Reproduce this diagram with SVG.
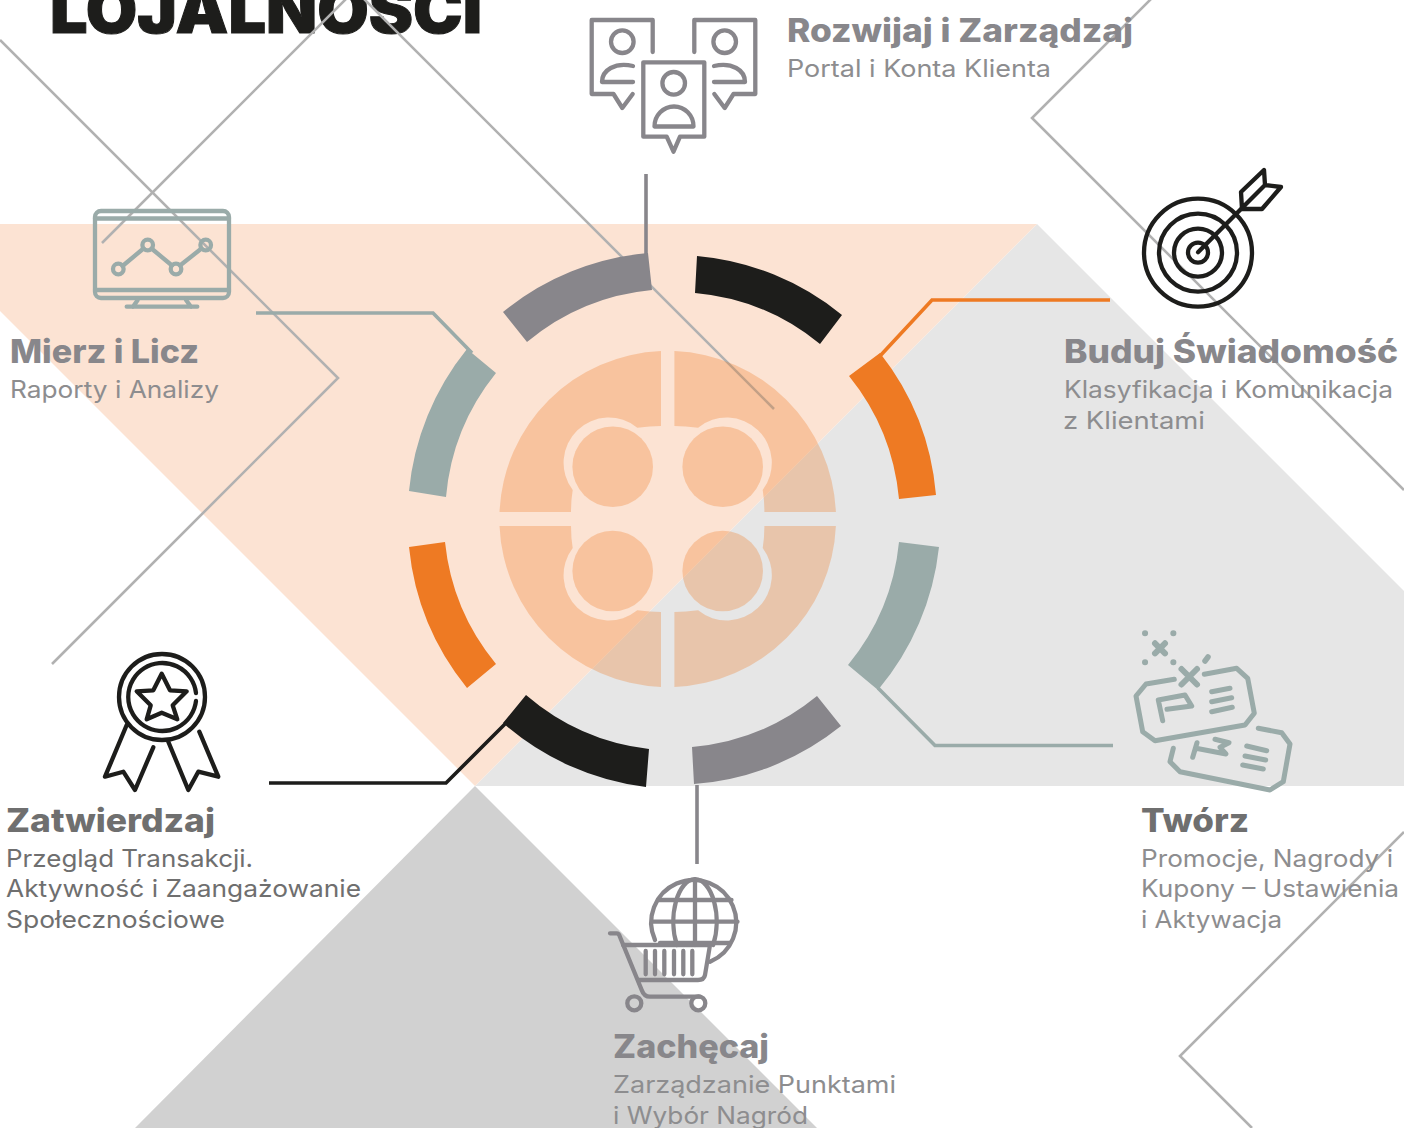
<svg xmlns="http://www.w3.org/2000/svg" xmlns:xlink="http://www.w3.org/1999/xlink" width="1404" height="1128" viewBox="0 0 1404 1128">
<style>
text{font-family:Inter,"Liberation Sans",sans-serif}
.h{font-size:32px;font-weight:800;fill:#88878b}
.s{font-size:24px;font-weight:400;fill:#8d8d8f}
.hd{fill:#6f6f6f}
.sd{fill:#6f6f6f}
.bg{fill:none;stroke:#b1b1b1;stroke-width:2.6}
.ic{fill:none;stroke-width:4.3;stroke-linecap:round;stroke-linejoin:round}
.tk{stroke-width:5}
.gr{stroke:#88868b}.te{stroke:#9aaba9}.bk{stroke:#1d1d1b}
.con{fill:none;stroke-width:3.6}
.q{fill:#ee7a23;fill-opacity:.3}
</style>
<defs>
<path id="quad" d="M661,351A168.5,168.5 0 0 0 499.5,512H571Q571,500 572.7,490A45.2,45.2 0 0 1 637.3,427.7Q650,426 661,426Z"/>
</defs>
<rect width="1404" height="1128" fill="#fff"/>
<g id="background">
<polygon points="1037,224 1404,591 1404,786 475,786" fill="#e6e6e6"/>
<polygon points="0,224 1037,224 475,786 0,311" fill="#fce3d3"/>
<polygon points="475,786 817,1128 135,1128" fill="#d1d1d1"/>
</g>
<text id="title" x="50" y="33" font-size="64" font-weight="900" fill="#1d1d1b" stroke="#1d1d1b" stroke-width="1" textLength="432" lengthAdjust="spacingAndGlyphs">LOJALNOŚCI</text>
<g id="bg-lines">
<path class="bg" d="M0,40L338,378L52,664"/>
<path class="bg" d="M102,243L355,-10L774,409"/>
<path class="bg" d="M1152,-2L1032,118L1404,490"/>
<path class="bg" d="M1404,832L1180,1056L1252,1128"/>
</g>
<g id="center">
<use href="#quad" class="q"/>
<use href="#quad" class="q" transform="matrix(-1 0 0 1 1335.4 0)"/>
<use href="#quad" class="q" transform="matrix(1 0 0 -1 0 1038)"/>
<use href="#quad" class="q" transform="matrix(-1 0 0 -1 1335.4 1038)"/>
<circle class="q" cx="612.7" cy="466.7" r="40.3"/>
<circle class="q" cx="722.7" cy="466.7" r="40.3"/>
<circle class="q" cx="612.7" cy="571" r="40.3"/>
<circle class="q" cx="722.7" cy="571" r="40.3"/>
</g>
<g id="ring">
<path fill="#88868b" d="M503,312A266,266 0 0 1 648,253L652,290A229,229 0 0 0 527,342Z"/>
<path fill="#1d1d1b" d="M697,256A266,266 0 0 1 842,315L820,344A229,229 0 0 0 695,293Z"/>
<path fill="#ee7a23" d="M880,353A266,266 0 0 1 936,495L899,499A229,229 0 0 0 849,376Z"/>
<path fill="#9aaba9" d="M939,547A266,266 0 0 1 878,690L848,665A229,229 0 0 0 899,542Z"/>
<path fill="#88868b" d="M841,726A266,266 0 0 1 694,784L692,747A229,229 0 0 0 817,696Z"/>
<path fill="#1d1d1b" d="M646,787A266,266 0 0 1 503,723L526,695A229,229 0 0 0 649,749Z"/>
<path fill="#ee7a23" d="M467,688A266,266 0 0 1 409,547L445,542A229,229 0 0 0 496,664Z"/>
<path fill="#9aaba9" d="M409,491A266,266 0 0 1 467,349L496,373A229,229 0 0 0 446,497Z"/>
</g>
<g id="connectors">
<path class="con" stroke="#9aaba9" d="M256,313H433L472,353"/>
<path class="con" stroke="#88868b" d="M646,174V258"/>
<path class="con" stroke="#ee7a23" d="M1110,300H932L880,356"/>
<path class="con" stroke="#9aaba9" d="M1113,745.500H935L878,688"/>
<path class="con" stroke="#1d1d1b" d="M269,783H446L507,722"/>
<path class="con" stroke="#88868b" d="M697,785V864"/>
</g>
<g id="node-rozwijaj">
<g class="ic gr">
<path d="M652.7,52V20H591.700V94H613.500L622.300,108L632.700,94"/>
<circle cx="622.3" cy="41.7" r="11.3"/>
<path d="M633,66C615,62 602,70 602,82H633"/>
<path d="M694.3,52V20H755.300V94H733.500L724.700,108L714.300,94"/>
<circle cx="724.7" cy="41.7" r="11.3"/>
<path d="M714,66C732,62 745,70 745,82H714"/>
<path d="M643.3,62.3H704.300V136.700H680L673.500,151.700L666.700,136.700H643.300Z"/>
<circle cx="673.7" cy="83.3" r="11.3"/>
<path d="M654.5,126.5A19.5,20 0 0 1 693.5,126.5Z"/>
</g>
<text class="h" x="787" y="42" textLength="346" lengthAdjust="spacingAndGlyphs">Rozwijaj i Zarządzaj</text>
<text class="s" x="787" y="77" textLength="264" lengthAdjust="spacingAndGlyphs">Portal i Konta Klienta</text>
</g>
<g id="node-buduj">
<g class="ic bk">
<circle cx="1198" cy="252.6" r="54"/>
<circle cx="1198" cy="252.6" r="39"/>
<circle cx="1198" cy="252.6" r="24"/>
<circle cx="1198" cy="252.6" r="10"/>
<path d="M1198,252.3L1244,206"/>
<path d="M1241,192L1264,170L1265,185L1281,187L1262,209L1242,209ZM1244,206L1265,185"/>
</g>
<text class="h" x="1064" y="363" textLength="334" lengthAdjust="spacingAndGlyphs">Buduj Świadomość</text>
<text class="s" x="1064" y="398" textLength="329" lengthAdjust="spacingAndGlyphs">Klasyfikacja i Komunikacja</text>
<text class="s" x="1063" y="429" textLength="142" lengthAdjust="spacingAndGlyphs">z Klientami</text>
</g>
<g id="node-tworz">
<g class="ic tk te">
<path d="M1155,643.3L1165,653.300M1165,643.300L1155,653.300" style="stroke-width:6"/>
<path d="M1145,633.3h.1M1173.3,633.300h.1M1145,662.300h.1M1173.300,662.300h.1" style="stroke-width:6"/>
<path d="M1205,661L1208,657" style="stroke-width:5.500"/>
<path d="M1181.5,669L1197,684.500M1197,669L1181.500,684.500" style="stroke-width:6"/>
<path d="M1174.3,679.3L1146,684L1136,696L1142.700,731.700L1155,740.700L1245,725L1254.300,713.300L1247.700,678.300L1236.700,668.300L1204.300,674.300"/>
<path d="M1162.7,720.7L1158.300,700L1185,695L1191.700,706L1167,709.300"/>
<path d="M1211.7,691.7L1230,688.300M1211.700,701.700L1231.700,697.700M1211.700,711.700L1232.300,707.300"/>
<path d="M1258.3,728.3L1281.700,732.700L1290,744L1283.300,781.700L1270,790L1180,771.700L1170,761.700L1173.300,748.300"/>
<path d="M1192.7,757.3L1197,742.700M1215,739.300L1229,742.700L1220,747.300L1226,754L1196,748.300"/>
<path d="M1246.7,746L1266.700,750.700M1245,756L1265.700,760M1242.700,765L1263.300,769"/>
</g>
<text class="h hd" x="1141" y="832" textLength="108" lengthAdjust="spacingAndGlyphs">Twórz</text>
<text class="s" x="1141" y="867" textLength="252" lengthAdjust="spacingAndGlyphs">Promocje, Nagrody i</text>
<text class="s" x="1141" y="897" textLength="258" lengthAdjust="spacingAndGlyphs">Kupony – Ustawienia</text>
<text class="s" x="1141" y="928" textLength="141" lengthAdjust="spacingAndGlyphs">i Aktywacja</text>
</g>
<g id="node-zachecaj">
<g class="ic gr">
<path d="M655,940A42.5,42.5 0 1 1 710,961.7"/>
<path d="M695,879.2V945M676.9,945A21.7,42.5 0 0 1 695,879.2A21.7,42.5 0 0 1 713.1,945"/>
<path d="M658.5,900H731.5M652.5,921.7H737.5M660,943H730"/>
<path d="M610,933.3H616.7Q619,933.3 620,937L641.7,990Q644,996.7 650,996.7H700"/>
<path d="M623,945H710L705,975Q704,980 698,980H638"/>
<path d="M645.7,951V974.3M655,951V974.3M664.3,951V974.3M674,951V974.3M683.3,951V974.3M692.3,951V974.3"/>
<circle cx="634.3" cy="1003.3" r="7"/>
<circle cx="698.3" cy="1003.3" r="7"/>
</g>
<text class="h" x="613" y="1058" textLength="156" lengthAdjust="spacingAndGlyphs">Zachęcaj</text>
<text class="s" x="613" y="1093" textLength="283" lengthAdjust="spacingAndGlyphs">Zarządzanie Punktami</text>
<text class="s" x="613" y="1124" textLength="195" lengthAdjust="spacingAndGlyphs">i Wybór Nagród</text>
</g>
<g id="node-zatwierdzaj">
<g class="ic bk">
<circle cx="162" cy="697" r="43"/>
<path d="M196,701A34,34 0 1 1 196,693"/>
<path d="M161.7,673.7L170,690.3L186.7,691.3L172.7,705.3L177.3,719.3L161.7,712.700L146.700,719.300L150.700,705.300L136.700,691.300L153.300,690.300Z"/>
<path d="M126.7,725L105,776.7L123.300,771.700L135,790L153.300,747.300"/>
<path d="M168.3,741.7L188.300,790L198.300,771.700L218.300,776.700L199.300,731.700"/>
</g>
<text class="h hd" x="6" y="832" textLength="209" lengthAdjust="spacingAndGlyphs">Zatwierdzaj</text>
<text class="s sd" x="6" y="867" textLength="247" lengthAdjust="spacingAndGlyphs">Przegląd Transakcji.</text>
<text class="s sd" x="6" y="897" textLength="355" lengthAdjust="spacingAndGlyphs">Aktywność i Zaangażowanie</text>
<text class="s sd" x="6" y="928" textLength="219" lengthAdjust="spacingAndGlyphs">Społecznościowe</text>
</g>
<g id="node-mierz">
<g class="ic te">
<rect x="95" y="211" width="134" height="87" rx="6"/>
<path d="M95,218.5H229M95,290H229"/>
<path d="M122.5,266L143.5,248.5M151.5,248.5L172,265.5M180,265.5L201.5,248.5"/>
<circle cx="118.3" cy="269" r="5.3"/>
<circle cx="147.7" cy="245" r="5.3"/>
<circle cx="176" cy="269" r="5.3"/>
<circle cx="205.7" cy="245" r="5.3"/>
<path d="M126.7,306.7H197.3M137.7,300L133,306.7M186,300L191,306.7"/>
</g>
<text class="h" x="10" y="363" textLength="189" lengthAdjust="spacingAndGlyphs">Mierz i Licz</text>
<text class="s" x="10" y="398" textLength="209" lengthAdjust="spacingAndGlyphs">Raporty i Analizy</text>
</g>
</svg>
